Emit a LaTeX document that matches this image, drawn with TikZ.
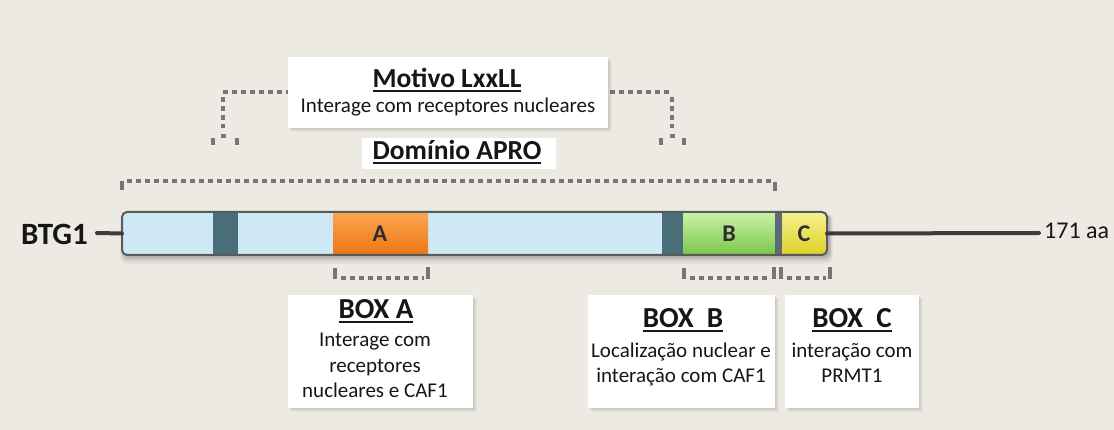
\documentclass[tikz,border=0pt]{standalone}
\usepackage{fontspec}
\setmainfont{Carlito}
\usetikzlibrary{calc}

\definecolor{bgc}{RGB}{236,234,226}
\definecolor{brk}{RGB}{118,118,116}
\definecolor{txt}{RGB}{22,22,22}
\definecolor{lblue}{RGB}{206,233,244}
\definecolor{dteal}{RGB}{74,110,120}
\definecolor{orgT}{RGB}{250,166,80}
\definecolor{orgB}{RGB}{236,118,20}
\definecolor{grnT}{RGB}{204,240,170}
\definecolor{grnB}{RGB}{122,200,74}
\definecolor{yelT}{RGB}{246,242,140}
\definecolor{yelB}{RGB}{222,208,40}
\definecolor{divc}{RGB}{92,106,120}
\definecolor{edge}{RGB}{88,90,92}
\definecolor{linec}{RGB}{60,60,60}

% underlined heading: rule under the baseline, as wide as the text
\newcommand\headul[1]{\setbox0\hbox{#1}\rlap{\rule[-4.5pt]{\wd0}{2pt}}\box0}

% soft shadow to the lower right of a box given by two corners
\newcommand\softshadow[4]{%
  \foreach \d in {1,2,3,4}{%
    \fill[black,opacity=0.035] (#1+\d,#2+\d) rectangle (#3+\d,#4+\d);}}

\begin{document}
\begin{tikzpicture}[x=1pt,y=-1pt,
  bracket/.style={draw=brk, line width=3.2pt, dash pattern=on 5pt off 4pt},
  tickmark/.style={draw=brk, line width=3.2pt},
  wbox/.style={fill=white, draw=none, inner sep=0pt, outer sep=0pt},
  title/.style={font=\fontsize{27.5}{30}\selectfont\bfseries, text=txt, inner sep=0pt, anchor=base},
  boxtitle/.style={font=\fontsize{29}{32}\selectfont\bfseries, text=txt, inner sep=0pt, anchor=base},
  body/.style={font=\fontsize{21}{24}\selectfont, text=txt, inner sep=0pt, anchor=base},
  barlabel/.style={font=\fontsize{24}{26}\selectfont\bfseries, text=black!82, inner sep=0pt, anchor=base},
  backbone/.style={draw=linec, line width=4pt, line cap=round}]

\useasboundingbox (0,0) rectangle (1114,430);
\fill[bgc] (0,0) rectangle (1114,430);

% ---------- brackets above the protein ----------
% Dominio APRO span
\draw[bracket] (127,181) -- (771,181);
\draw[tickmark] (122,181) -- (122,190);
\draw[tickmark] (775,182) -- (775,191);

% LxxLL motifs
\draw[bracket] (223,92) -- (672,92);
\draw[bracket] (223,97) -- (223,128);
\draw[bracket] (672,97) -- (672,128);
\draw[tickmark] (213,138) -- (213,145);
\draw[tickmark] (221,136) -- (226,136);
\draw[tickmark] (237,138) -- (237,145);
\draw[tickmark] (661,138) -- (661,145);
\draw[tickmark] (670,136) -- (675,136);
\draw[tickmark] (684,138) -- (684,145);

% Motivo LxxLL label
\softshadow{288}{57}{608}{128}
\node[wbox, minimum width=320pt, minimum height=71pt] (motbox) at (448,92.5) {};
\node[title] (mot) at (447,88) {\headul{Motivo LxxLL}};
\node[body] (motd) at (448,113) {Interage com receptores nucleares};

% Dominio APRO label
\node[wbox, minimum width=194pt, minimum height=31pt] (aprobox) at (459,153.5) {};
\node[title] (apro) at (457,160) {\headul{Domínio APRO}};

% ---------- protein bar ----------
\foreach \d/\o in {2/0.10,4/0.07,6/0.05,8/0.03}{
  \fill[black,opacity=\o,rounded corners=6pt] (124-\d/2,214) rectangle (829+\d/2,256+\d);}

\begin{scope}
  \clip[rounded corners=5pt] (122,212) rectangle (827,255);
  \fill[lblue] (122,212) rectangle (827,255);
  \fill[dteal] (213,212) rectangle (238,255);
  \shade[top color=orgT, bottom color=orgB] (333,212) rectangle (428,255);
  \fill[dteal] (662,212) rectangle (683,255);
  \shade[top color=grnT, bottom color=grnB] (683,212) rectangle (775,255);
  \fill[divc] (775,212) rectangle (782,255);
  \shade[top color=yelT, bottom color=yelB] (782,212) rectangle (827,255);
\end{scope}
\node[draw=edge, line width=2pt, rounded corners=5pt, inner sep=0pt, outer sep=0pt,
      minimum width=705pt, minimum height=43pt] (bar) at (474.5,233.5) {};

\node[barlabel] (la) at (380,242) {A};
\node[barlabel] (lb) at (729,242) {B};
\node[barlabel] (lc) at (804,242) {C};

% backbone and labels
\node[font=\fontsize{31}{34}\selectfont\bfseries, text=txt, inner sep=0pt, anchor=base west] (btg) at (21,245) {BTG1};
\coordinate (nterm) at (97,233);
\coordinate (cterm) at (1039,233);
\draw[backbone] (nterm) -- (bar.west);
\draw[backbone] (bar.east) -- (cterm);
\node[font=\fontsize{24}{26}\selectfont, text=txt, inner sep=0pt, anchor=base west] (len) at (1044,239) {171 aa};

% ---------- brackets below the protein ----------
\draw[bracket] (341,278) -- (424,278);
\draw[tickmark] (335,268) -- (335,279);
\draw[tickmark] (428,267) -- (428,279);
\draw[bracket] (690,278) -- (770,278);
\draw[tickmark] (684,268) -- (684,279);
\draw[tickmark] (774,267) -- (774,279);
\draw[tickmark] (781,267) -- (781,279);
\draw[bracket] (787,278) -- (826,278);
\draw[tickmark] (830,267) -- (830,279);

% ---------- BOX A ----------
\softshadow{288}{295}{473}{408}
\node[wbox, minimum width=185pt, minimum height=113pt] (boxa) at (380.5,351.5) {};
\node[boxtitle] (ta) at (376,319) {\headul{BOX A}};
\node[body] (a1) at (375,347) {Interage com};
\node[body] (a2) at (375,372) {receptores};
\node[body] (a3) at (375,397) {nucleares e CAF1};

% ---------- BOX B ----------
\softshadow{588}{295}{775}{408}
\node[wbox, minimum width=187pt, minimum height=113pt] (boxb) at (681.5,351.5) {};
\node[boxtitle] (tb) at (683,328) {\headul{BOX\ \ B}};
\node[body] (b1) at (681,357) {Localização nuclear e};
\node[body] (b2) at (681,382) {interação com CAF1};

% ---------- BOX C ----------
\softshadow{785}{295}{919}{408}
\node[wbox, minimum width=134pt, minimum height=113pt] (boxc) at (852,351.5) {};
\node[boxtitle] (tc) at (852,328) {\headul{BOX\ \ C}};
\node[body] (c1) at (852,357) {interação com};
\node[body] (c2) at (852,382) {PRMT1};

\end{tikzpicture}
\end{document}
